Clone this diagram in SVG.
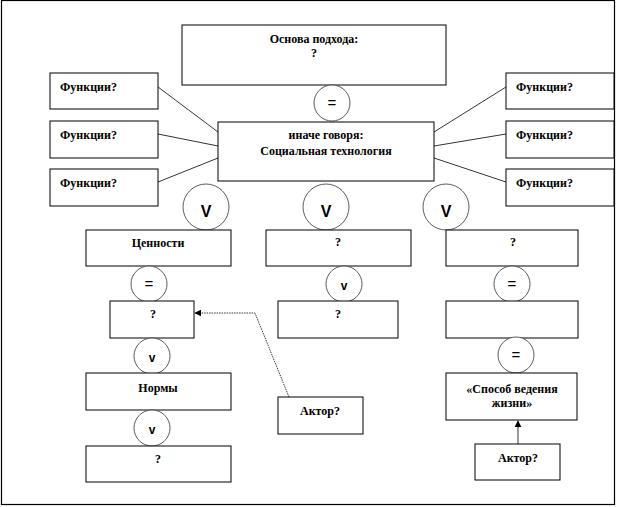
<svg xmlns="http://www.w3.org/2000/svg" width="617" height="507" viewBox="0 0 617 507">
<defs>
<style>
.box{fill:#fff;stroke:#000;stroke-width:1}
.c{fill:#fff;stroke:#333;stroke-width:0.8}
.t{font-family:"Liberation Serif","Times New Roman",serif;font-weight:bold;font-size:12px;fill:#000;text-anchor:middle}
.tl{font-family:"Liberation Serif","Times New Roman",serif;font-weight:bold;font-size:12px;fill:#000}
.V{font-family:"Liberation Sans",Arial,sans-serif;font-weight:bold;font-size:16px;fill:#000;text-anchor:middle}
.v{font-family:"Liberation Sans",Arial,sans-serif;font-weight:bold;font-size:12px;fill:#000;text-anchor:middle}
.eq{font-family:"Liberation Sans",Arial,sans-serif;font-size:15px;fill:#000;text-anchor:middle}
.ln{stroke:#000;stroke-width:0.8;fill:none}
.dl{stroke:#000;stroke-width:0.8;fill:none;stroke-dasharray:1.5 1}
</style>
<marker id="ah" viewBox="0 0 10 10" refX="9" refY="5" markerWidth="7" markerHeight="7" orient="auto" markerUnits="userSpaceOnUse">
<path d="M0,0 L10,5 L0,10 z" fill="#000"/>
</marker>
</defs>
<rect x="1.5" y="0.5" width="613" height="504" fill="#fff" stroke="#000" stroke-width="1.2"/>
<g id="connectors">
<line class="ln" x1="158" y1="87" x2="218" y2="132"/>
<line class="ln" x1="158" y1="134" x2="218" y2="146"/>
<line class="ln" x1="158" y1="182" x2="218" y2="158"/>
<line class="ln" x1="434" y1="132" x2="506" y2="87"/>
<line class="ln" x1="434" y1="146" x2="506" y2="134"/>
<line class="ln" x1="434" y1="158" x2="506" y2="182"/>
<polyline class="dl" points="289,397 255,313 195,313" marker-end="url(#ah)"/>
<line class="ln" x1="518" y1="444" x2="518" y2="421" marker-end="url(#ah)"/>
</g>
<g id="osnova"><rect class="box" x="182" y="25" width="264" height="60"/><text class="t" x="314" y="43">Основа подхода:</text><text class="t" x="314" y="57">?</text></g>
<g id="eq-top"><circle class="c" cx="332" cy="103" r="18"/><text class="eq" x="332" y="108">=</text></g>
<g id="soc-tech"><rect class="box" x="218" y="122" width="216" height="59"/><text class="t" x="326" y="139">иначе говоря:</text><text class="t" x="326" y="155">Социальная технология</text></g>
<g id="f-l1"><rect class="box" x="50" y="73" width="108" height="36"/><text class="tl" x="60" y="91">Функции?</text></g>
<g id="f-l2"><rect class="box" x="50" y="121" width="108" height="37"/><text class="tl" x="60" y="139">Функции?</text></g>
<g id="f-l3"><rect class="box" x="50" y="169" width="108" height="37"/><text class="tl" x="60" y="187">Функции?</text></g>
<g id="f-r1"><rect class="box" x="506" y="73" width="108" height="36"/><text class="tl" x="516" y="91">Функции?</text></g>
<g id="f-r2"><rect class="box" x="506" y="121" width="108" height="37"/><text class="tl" x="516" y="139">Функции?</text></g>
<g id="f-r3"><rect class="box" x="506" y="169" width="108" height="37"/><text class="tl" x="516" y="187">Функции?</text></g>
<g id="V1"><circle class="c" cx="206" cy="207" r="23"/><text class="V" x="206" y="217">V</text></g>
<g id="V2"><circle class="c" cx="326" cy="207" r="23"/><text class="V" x="326" y="217">V</text></g>
<g id="V3"><circle class="c" cx="446" cy="207" r="23"/><text class="V" x="446" y="217">V</text></g>
<g id="cennosti"><rect class="box" x="86" y="230" width="145" height="36"/><text class="t" x="158" y="247">Ценности</text></g>
<g id="q-mid1"><rect class="box" x="266" y="230" width="145" height="36"/><text class="t" x="338" y="246">?</text></g>
<g id="q-right1"><rect class="box" x="446" y="230" width="132" height="36"/><text class="t" x="513" y="246">?</text></g>
<g id="eq-l"><circle class="c" cx="149" cy="284" r="18"/><text class="eq" x="149" y="289">=</text></g>
<g id="v-mid"><circle class="c" cx="344" cy="284" r="18"/><text class="v" x="344" y="290">v</text></g>
<g id="eq-r"><circle class="c" cx="512" cy="284" r="18"/><text class="eq" x="512" y="289">=</text></g>
<g id="q-left2"><rect class="box" x="110" y="301" width="84" height="37"/><text class="t" x="153" y="318">?</text></g>
<g id="q-mid2"><rect class="box" x="278" y="301" width="120" height="37"/><text class="t" x="338" y="318">?</text></g>
<g id="empty-right"><rect class="box" x="446" y="301" width="132" height="37"/></g>
<g id="v-l1"><circle class="c" cx="152" cy="356" r="18"/><text class="v" x="152" y="362">v</text></g>
<g id="eq-r2"><circle class="c" cx="516" cy="355" r="18"/><text class="eq" x="516" y="360">=</text></g>
<g id="normy"><rect class="box" x="86" y="373" width="145" height="37"/><text class="t" x="158" y="392">Нормы</text></g>
<g id="v-l2"><circle class="c" cx="152" cy="428" r="18"/><text class="v" x="152" y="434">v</text></g>
<g id="q-bottom"><rect class="box" x="86" y="446" width="145" height="36"/><text class="t" x="158" y="463">?</text></g>
<g id="aktor-l"><rect class="box" x="278" y="397" width="85" height="37"/><text class="t" x="320" y="415">Актор?</text></g>
<g id="sposob"><rect class="box" x="446" y="373" width="131" height="47"/><text class="t" x="512" y="393">«Способ ведения</text><text class="t" x="512" y="407">жизни»</text></g>
<g id="aktor-r"><rect class="box" x="475" y="444" width="85" height="36"/><text class="t" x="518" y="462">Актор?</text></g>
</svg>
